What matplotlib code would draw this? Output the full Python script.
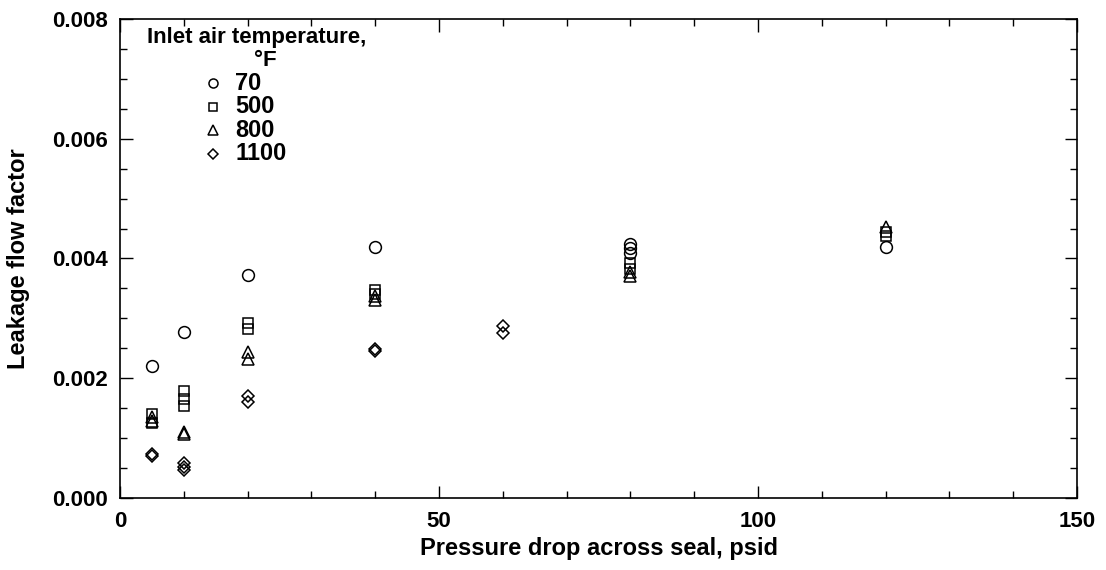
import matplotlib
matplotlib.use("Agg")
import matplotlib.pyplot as plt
from matplotlib.ticker import MultipleLocator

plt.rcParams['font.family'] = ['Liberation Sans', 'DejaVu Sans']
plt.rcParams['font.weight'] = 'bold'

# pressure drop (psid) and leakage flow factor, per inlet temperature
p_70 = [5, 10, 20, 40, 80, 80, 80, 120]
f_70 = [0.0022, 0.00277, 0.00372, 0.00419, 0.00425, 0.00417, 0.0041, 0.0042]

p_500 = [5, 5, 10, 10, 10, 20, 20, 40, 40, 80, 80, 120, 120]
f_500 = [0.0014, 0.00125, 0.00179, 0.00166, 0.00154, 0.00293, 0.00283,
         0.00347, 0.0034, 0.00393, 0.00383, 0.00445, 0.00437]

p_800 = [5, 5, 10, 10, 20, 20, 40, 40, 80, 80, 120]
f_800 = [0.00135, 0.00128, 0.00111, 0.00107, 0.00244, 0.00232,
         0.00337, 0.0033, 0.00378, 0.0037, 0.00453]

p_1100 = [5, 5, 10, 10, 10, 20, 20, 40, 40, 60, 60]
f_1100 = [0.00073, 0.0007, 0.00058, 0.00052, 0.00047, 0.0017, 0.0016,
          0.00249, 0.00245, 0.00288, 0.00276]

temps = ['70', '500', '800', '1100']
markers = ['o', 's', '^', 'D']
sizes = [8.5, 7.5, 8.5, 6.5]

fig = plt.figure(figsize=(11.06, 5.70), dpi=100)
ax = fig.add_axes([0.1085, 0.1263, 0.8653, 0.8404])

kw = dict(linestyle='none', markerfacecolor='none', markeredgecolor='black',
          markeredgewidth=1.1)
series = [(p_70, f_70), (p_500, f_500), (p_800, f_800), (p_1100, f_1100)]
for (p, f), m, s in zip(series, markers, sizes):
    ax.plot(p, f, marker=m, markersize=s, **kw)

ax.set_xlim(0, 150)
ax.set_ylim(0, 0.008)
ax.xaxis.set_major_locator(MultipleLocator(50))
ax.xaxis.set_minor_locator(MultipleLocator(10))
ax.yaxis.set_major_locator(MultipleLocator(0.002))
ax.yaxis.set_minor_locator(MultipleLocator(0.0005))
ax.yaxis.set_major_formatter(plt.FormatStrFormatter('%.3f'))
ax.tick_params(which='both', direction='in', top=True, right=True, labelsize=16)
ax.tick_params(which='major', length=9, width=1, pad=9)
ax.tick_params(which='minor', length=5, width=1)
for s in ax.spines.values():
    s.set_linewidth(1.2)

ax.set_xlabel('Pressure drop across seal, psid', fontsize=17, fontweight='bold', labelpad=4)
ax.set_ylabel('Leakage flow factor', fontsize=17, fontweight='bold', labelpad=16)

# hand-built key, as in the original figure
ax.text(0.028, 0.962, 'Inlet air temperature,', transform=ax.transAxes,
        fontsize=16, fontweight='bold', ha='left', va='center')
ax.text(0.1515, 0.914, '°F', transform=ax.transAxes,
        fontsize=16, fontweight='bold', ha='center', va='center')
key_y = [0.866, 0.817, 0.768, 0.719]
key_sizes = [6.5, 6, 6.5, 5]
for t, m, s, y in zip(temps, markers, key_sizes, key_y):
    ax.plot([0.0972], [y], marker=m, markersize=s, transform=ax.transAxes,
            clip_on=False, **kw)
    ax.text(0.1202, y, t, transform=ax.transAxes, fontsize=17,
            fontweight='bold', ha='left', va='center')

fig.savefig('out.png', dpi=100)
